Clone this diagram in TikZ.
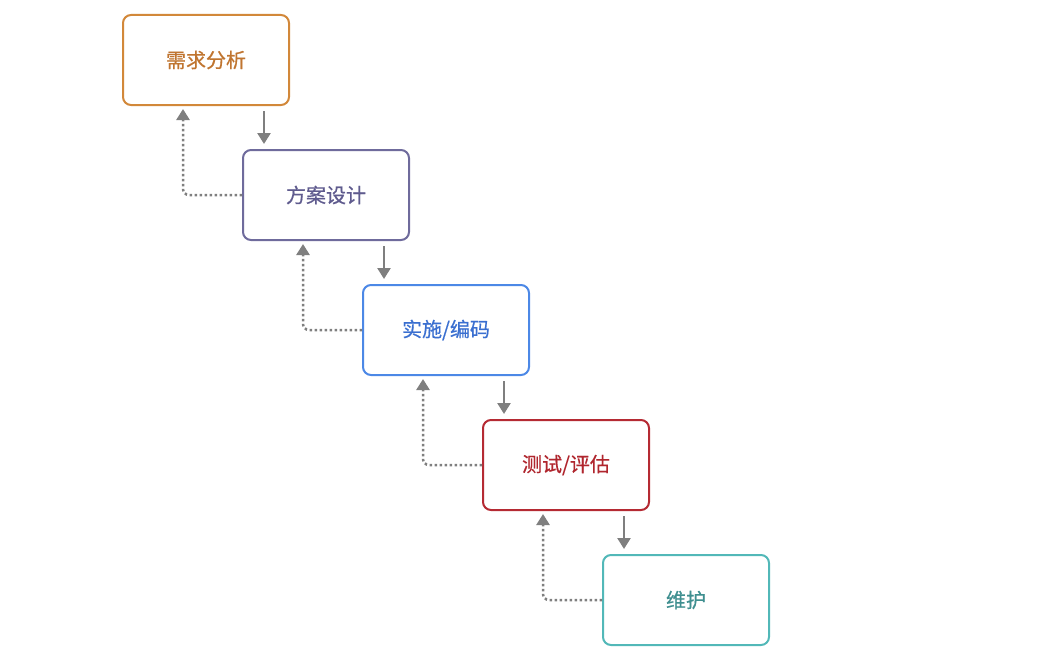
\documentclass[tikz,border=0pt]{standalone}
\usepackage{fontspec}
\setmainfont{Noto Sans CJK SC}
\newfontfamily\medfont{Noto Sans CJK SC}[FakeBold=0.6]
\usetikzlibrary{arrows.meta,calc}
\definecolor{c1}{HTML}{D2883A}
\definecolor{t1}{HTML}{C07530}
\definecolor{c2}{HTML}{6F6B9C}
\definecolor{t2}{HTML}{5F5B8E}
\definecolor{c3}{HTML}{4C88E6}
\definecolor{t3}{HTML}{3A6FD0}
\definecolor{c4}{HTML}{B52A33}
\definecolor{t4}{HTML}{B0262E}
\definecolor{c5}{HTML}{52B8B8}
\definecolor{t5}{HTML}{3F8F90}
\definecolor{arr}{HTML}{7F7F7F}
\begin{document}
\begin{tikzpicture}[x=1pt,y=-1pt,
  stage/.style={draw=#1, line width=2pt, rounded corners=8pt, minimum width=166pt, minimum height=90pt, inner sep=0pt, fill=white, font=\medfont\fontsize{20}{22}\selectfont},
  darrow/.style={draw=arr, line width=2.5pt, -{Triangle[width=13pt,length=11pt]}},
  uarrow/.style={draw=arr, line width=2.5pt, dash pattern=on 2.5pt off 2.5pt, rounded corners=6pt, -{Triangle[width=13pt,length=11pt]}}]
\useasboundingbox (0,0) rectangle (1049,661);
\node[stage=c1, text=t1] (b1) at (206,60) {需求分析};
\node[stage=c2, text=t2] (b2) at (326,195) {方案设计};
\node[stage=c3, text=t3] (b3) at (446,330) {实施/编码};
\node[stage=c4, text=t4] (b4) at (566,465) {测试/评估};
\node[stage=c5, text=t5] (b5) at (686,600) {维护};
\foreach \a/\b in {b1/b2,b2/b3,b3/b4,b4/b5}{
  \coordinate (d\b) at ($(\b.north west)+(22,-5)$);
  \coordinate (u\a) at ($(\a.south west)+(61,3)$);
  \draw[darrow] ($(d\b |- \a.south)+(0,5)$) -- (d\b);
  \draw[uarrow] (\b.west) -| (u\a);
}
\end{tikzpicture}
\end{document}
